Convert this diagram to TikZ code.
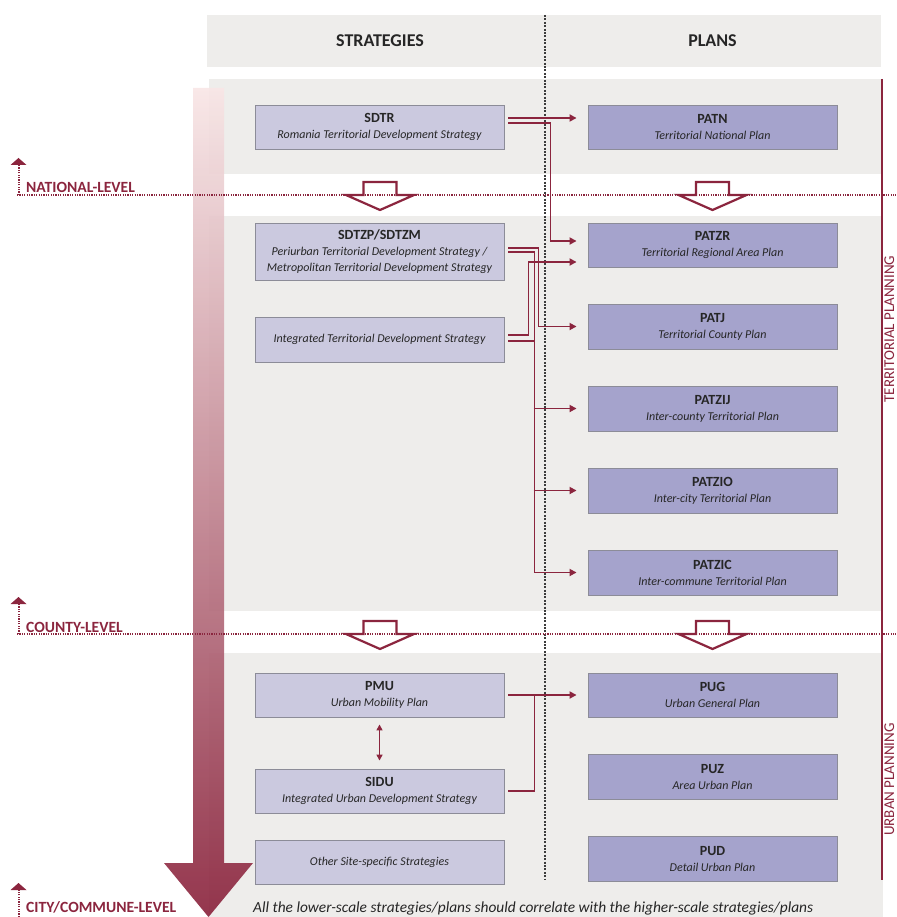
\documentclass[tikz,border=0pt]{standalone}
\usepackage{fontspec}
\setmainfont{Carlito}
\usetikzlibrary{arrows.meta,calc}
\definecolor{mred}{RGB}{139,37,62}
\definecolor{bandgray}{RGB}{238,237,235}
\definecolor{stratfill}{RGB}{203,201,223}
\definecolor{planfill}{RGB}{165,163,204}
\definecolor{boxedge}{RGB}{140,140,152}
\definecolor{txt}{RGB}{38,38,38}
\definecolor{arrtop}{RGB}{248,230,230}
\definecolor{arrmid}{RGB}{208,155,160}
\newcommand\boxtitle[1]{{\fontsize{14}{16}\selectfont\bfseries\upshape #1}}
\tikzset{
  basebox/.style={draw=boxedge, line width=0.9pt, minimum width=249pt, minimum height=44pt,
    inner sep=0pt, align=center, text=txt, font=\fontsize{12}{16}\selectfont\itshape},
  stratbox/.style={basebox, fill=stratfill},
  planbox/.style={basebox, fill=planfill},
  band/.style={fill=bandgray, draw=none},
  conn/.style={draw=mred, line width=1.7pt},
  arr/.style={conn, -{Triangle[length=7pt,width=7pt]}},
  lvlline/.style={draw=mred, line width=1.2pt, dash pattern=on 1.2pt off 1.2pt},
  lvltext/.style={text=mred, font=\fontsize{15.6}{16}\selectfont\bfseries, inner sep=0pt},
  sidetext/.style={text=mred, font=\fontsize{15}{16}\selectfont, inner sep=0pt},
  headtext/.style={text=txt, font=\fontsize{18}{20}\selectfont\bfseries, inner sep=0pt},
  downarrow/.pic={\draw[mred, line width=2.2pt, fill=white, line join=miter]
     (-16.5,0) -- (16.5,0) -- (16.5,13) -- (34,13) -- (0,28) -- (-34,13) -- (-16.5,13) -- cycle;},
  lvlarrow/.pic={\fill[mred] (-8,0) -- (8,0) -- (0,-7) -- cycle;}
}
\begin{document}
\begin{tikzpicture}[x=1pt,y=-1pt]
\useasboundingbox (0,0) rectangle (896,917);
% bands
\fill[band] (207,15) rectangle (881,67);
\fill[band] (209,79) rectangle (883,174);
\fill[band] (209,216) rectangle (883,611);
\fill[band] (209,653) rectangle (883,917);
% header
\node[headtext, anchor=base] (hS) at (380,47) {STRATEGIES};
\node[headtext, anchor=base] (hP) at (712.5,47) {PLANS};
% big gradient arrow
\shade[top color=arrtop, middle color=arrmid, bottom color=mred, opacity=0.92]
  (193,88) -- (224,88) -- (224,863) -- (253,863) -- (208.5,917) -- (164,863) -- (193,863) -- cycle;
% central divider
\draw[line width=2.4pt, color=txt!90, dash pattern=on 2pt off 1.4pt] (545,15) -- (545,880);
% side line and labels
\draw[mred, line width=1.8pt] (882,79) -- (882,880);
\node[sidetext, rotate=90, anchor=base] (tp) at (894,329) {TERRITORIAL PLANNING};
\node[sidetext, rotate=90, anchor=base] (up) at (894,779.5) {URBAN PLANNING};
% hollow down arrows
\pic at (380,182) {downarrow};
\pic at (712.5,182) {downarrow};
\pic at (380,621) {downarrow};
\pic at (712.5,621) {downarrow};
% level lines
\draw[lvlline] (17,195) -- (896,195);
\draw[lvlline] (17,634) -- (896,634);
\draw[lvlline] (19,195) -- (19,165);
\draw[lvlline] (19,634) -- (19,604);
\draw[lvlline] (19,917) -- (19,890);
\pic at (18.5,165) {lvlarrow};
\pic at (18.5,604) {lvlarrow};
\pic at (18.5,890) {lvlarrow};
\node[lvltext, anchor=base west] (lN) at (26,193) {NATIONAL-LEVEL};
\node[lvltext, anchor=base west] (lC) at (26,632) {COUNTY-LEVEL};
\node[lvltext, anchor=base west] (lT) at (26,912.5) {CITY/COMMUNE-LEVEL};
% strategy boxes
\node[stratbox] (SDTR) at (379.5,127) {\boxtitle{SDTR}\\Romania Territorial Development Strategy};
\node[stratbox, minimum height=57pt] (SDTZP) at (379.5,251.5) {\boxtitle{SDTZP/SDTZM}\\Periurban Territorial Development Strategy /\\Metropolitan Territorial Development Strategy};
\node[stratbox, minimum height=45pt] (ITDS) at (379.5,339.5) {Integrated Territorial Development Strategy};
\node[stratbox] (PMU) at (379.5,695) {\boxtitle{PMU}\\Urban Mobility Plan};
\node[stratbox] (SIDU) at (379.5,791) {\boxtitle{SIDU}\\Integrated Urban Development Strategy};
\node[stratbox] (OTH) at (379.5,862) {Other Site-specific Strategies};
% plan boxes
\node[planbox] (PATN) at (712.5,127) {\boxtitle{PATN}\\Territorial National Plan};
\node[planbox] (PATZR) at (712.5,245) {\boxtitle{PATZR}\\Territorial Regional Area Plan};
\node[planbox, minimum height=45pt] (PATJ) at (712.5,326.5) {\boxtitle{PATJ}\\Territorial County Plan};
\node[planbox, minimum height=45pt] (PATZIJ) at (712.5,408.5) {\boxtitle{PATZIJ}\\Inter-county Territorial Plan};
\node[planbox, minimum height=45pt] (PATZIO) at (712.5,490.5) {\boxtitle{PATZIO}\\Inter-city Territorial Plan};
\node[planbox, minimum height=45pt] (PATZIC) at (712.5,572.5) {\boxtitle{PATZIC}\\Inter-commune Territorial Plan};
\node[planbox] (PUG) at (712.5,695) {\boxtitle{PUG}\\Urban General Plan};
\node[planbox, minimum height=45pt] (PUZ) at (712.5,776.5) {\boxtitle{PUZ}\\Area Urban Plan};
\node[planbox, minimum height=45pt] (PUD) at (712.5,858.5) {\boxtitle{PUD}\\Detail Urban Plan};
% connectors
\draw[arr] ($(SDTR.east)+(4,-9)$) -- ($(PATN.west)+(-11,-9)$);
\draw[arr] ($(SDTR.east)+(4,-4)$) -- ++(42,0) |- ($(PATZR.west)+(-11,-4)$);
\draw[arr] ($(SDTZP.east)+(4,-3.5)$) -- ++(30,0) |- ($(PATJ.west)+(-11,0)$);
\draw[arr] ($(SDTZP.east)+(4,0.5)$) -- ++(26,0) |- ($(PATZIC.west)+(-11,0)$);
\draw[arr] ($(ITDS.east)+(4,-4.5)$) -- ++(20,0) |- ($(PATZR.west)+(-11,17)$);
\draw[conn] ($(ITDS.east)+(4,1.5)$) -- ++(26,0);
\draw[arr] ($(PATZIJ.west)+(-54,0)$) -- ($(PATZIJ.west)+(-11,0)$);
\draw[arr] ($(PATZIO.west)+(-54,0)$) -- ($(PATZIO.west)+(-11,0)$);
\draw[arr] ($(PMU.east)+(4,0)$) -- ($(PUG.west)+(-11,0)$);
\draw[conn] ($(SIDU.east)+(4,0)$) -| ($(PMU.east)+(30,0)$);
\draw[conn, {Triangle[length=6pt,width=6pt]}-{Triangle[length=6pt,width=6pt]}] ($(PMU.south)+(0,7)$) -- ($(SIDU.north)+(0,-8)$);
% footnote
\node[anchor=base west, inner sep=0pt, text=txt, font=\fontsize{15.4}{16}\selectfont\itshape] (foot) at (253,912.5)
  {All the lower-scale strategies/plans should correlate with the higher-scale strategies/plans};
\end{tikzpicture}
\end{document}
